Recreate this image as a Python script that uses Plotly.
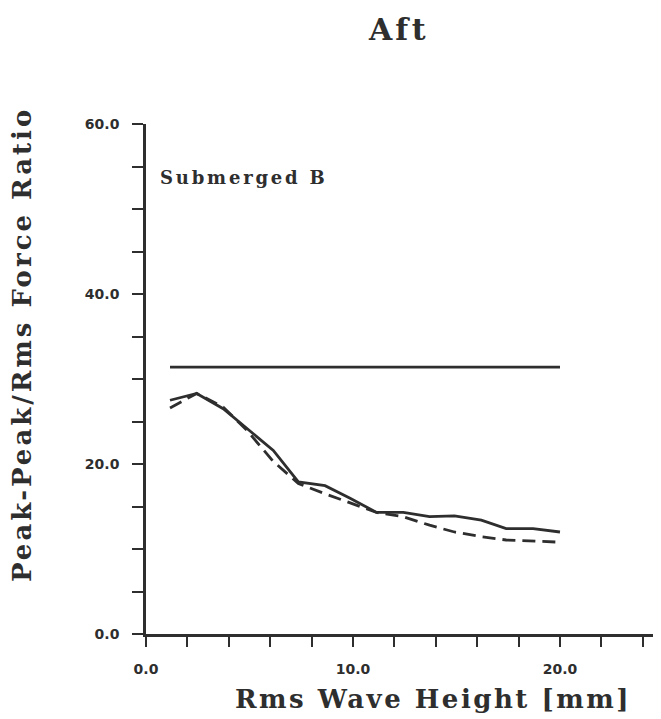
import plotly.graph_objects as go

# Data
x_vals = [1.16, 2.45, 3.73, 4.86, 6.15, 7.36, 8.65, 9.86, 11.14, 12.43, 13.7, 14.9, 16.2, 17.4, 18.7, 20.0]
solid_vals = [27.5, 28.3, 26.5, 24.2, 21.6, 17.9, 17.45, 15.96, 14.3, 14.3, 13.8, 13.9, 13.4, 12.4, 12.4, 12.0]
dashed_vals = [26.6, 28.3, 26.7, 24.0, 20.3, 17.7, 16.5, 15.4, 14.3, 13.8, 12.8, 12.0, 11.45, 11.06, 10.94, 10.8]
ref_x = [1.16, 20.0]
ref_y = [31.4, 31.4]

y_ticks = [0, 5, 10, 15, 20, 25, 30, 35, 40, 45, 50, 55, 60]
y_labels = ["0.0", "", "", "", "20.0", "", "", "", "40.0", "", "", "", "60.0"]
x_ticks = [0, 2, 4, 6, 8, 10, 12, 14, 16, 18, 20, 22, 24]
x_labels = ["0.0", "", "", "", "", "10.0", "", "", "", "", "20.0", "", ""]

title_text = "Aft"
y_title = "Peak-Peak/Rms Force Ratio"
x_title = "Rms Wave Height [mm]"
label_text = "Submerged B"

ink = "#2e2e2e"
serif = "DejaVu Serif"

# page body has an 8px margin; compensate so the plot lands where the reference has it
OFF = 8
W, H = 661 - OFF, 719 - OFF
L, T, B = 146 - OFF, 124 - OFF, 85
PW, PH = W - L, H - T - B


def px(xp):
    return (xp - OFF - L) / PW


def py(yp):
    return (H - B - (yp - OFF)) / PH


def spaced(s, sp):
    return '<span style="letter-spacing:%spx">%s</span>' % (sp, s)


fig = go.Figure()
fig.add_trace(go.Scatter(x=ref_x, y=ref_y, mode="lines", line=dict(color=ink, width=2.8), showlegend=False))
fig.add_trace(go.Scatter(x=x_vals, y=solid_vals, mode="lines", line=dict(color=ink, width=2.8), showlegend=False))
fig.add_trace(go.Scatter(x=x_vals, y=dashed_vals, mode="lines",
                         line=dict(color=ink, width=2.8, dash="13px,7px"), showlegend=False))

tickfont = dict(family="DejaVu Sans", size=14, color=ink, weight="bold")
fig.update_layout(
    width=W, height=H,
    paper_bgcolor="white", plot_bgcolor="white",
    margin=dict(l=L, r=0, t=T, b=B),
    xaxis=dict(range=[0, 24.88], tickvals=x_ticks, ticktext=x_labels, ticks="outside", ticklen=10,
               tickwidth=2.2, tickcolor=ink, showline=True, linecolor=ink, linewidth=2.6,
               showgrid=False, zeroline=False, ticklabelstandoff=10, tickfont=tickfont),
    yaxis=dict(range=[0, 60], tickvals=y_ticks, ticktext=y_labels, ticks="outside", ticklen=11,
               tickwidth=2.2, tickcolor=ink, showline=True, linecolor=ink, linewidth=2.6,
               showgrid=False, zeroline=False, ticklabelstandoff=10, tickfont=tickfont),
    annotations=[
        dict(text=spaced(title_text, 3.5), xref="paper", yref="paper", x=px(398), y=py(29),
             xanchor="center", yanchor="middle", showarrow=False,
             font=dict(family=serif, size=30, color=ink, weight="bold")),
        dict(text=spaced(y_title, 3.0), xref="paper", yref="paper", x=px(22),
             y=py(345), xanchor="center", yanchor="middle", textangle=-90, showarrow=False,
             font=dict(family=serif, size=26, color=ink, weight="bold")),
        dict(text=spaced(x_title, 2.5), xref="paper", yref="paper", x=px(433),
             y=py(699), xanchor="center", yanchor="middle", showarrow=False,
             font=dict(family=serif, size=26, color=ink, weight="bold")),
        dict(text=spaced(label_text, 2.8), xref="paper", yref="paper", x=px(158),
             y=py(178), xanchor="left", yanchor="middle", showarrow=False,
             font=dict(family=serif, size=18, color=ink, weight="bold")),
    ],
)

fig.write_html("out.html")
